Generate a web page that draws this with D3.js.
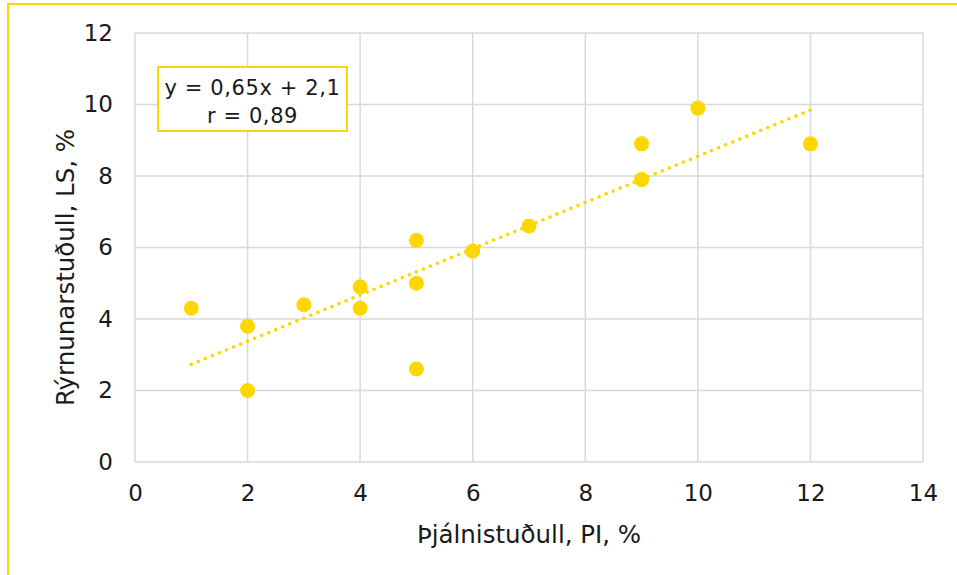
<!DOCTYPE html>
<html>
<head>
<meta charset="utf-8">
<title>PI vs LS</title>
<style>
  body { margin: 0; background: #fff; }
  text { font-family: 'DejaVu Sans', sans-serif; fill: #1a1a1a; }
</style>
<script src="https://d3js.org/d3.v7.min.js"></script>
</head>
<body>
<div id="chart"></div>
<script>
// ******* Data *******
const piValues = [1, 2, 2, 3, 4, 4, 5, 5, 5, 6, 7, 9, 9, 10, 12];
const lsValues = [4.3, 3.8, 2.0, 4.4, 4.9, 4.3, 6.2, 5.0, 2.6, 5.9, 6.6, 8.9, 7.9, 9.9, 8.9];
const xTicks = [0, 2, 4, 6, 8, 10, 12, 14];
const yTicks = [0, 2, 4, 6, 8, 10, 12];
const equationLines = ["y = 0,65x + 2,1", "r = 0,89"];

// ******* Constants *******
const width = 957, height = 575;
const margin = { top: 33, right: 34, bottom: 113, left: 135 };
const yellow = "#FFD700";
const font = "'DejaVu Sans', sans-serif";

const svg = d3.select("#chart").append("svg")
    .attr("width", width)
    .attr("height", height);

// outer frame
svg.append("rect")
    .attr("x", 8).attr("y", 4)
    .attr("width", width).attr("height", height)
    .attr("fill", "none")
    .attr("stroke", yellow)
    .attr("stroke-width", 2);

// ******* Scales *******
const x = d3.scaleLinear().domain([0, 14]).range([margin.left, width - margin.right]);
const y = d3.scaleLinear().domain([0, 12]).range([height - margin.bottom, margin.top]);

// ******* Grid *******
svg.append("g")
    .selectAll("line")
    .data(xTicks)
    .join("line")
    .attr("x1", d => x(d)).attr("x2", d => x(d))
    .attr("y1", y(0)).attr("y2", y(12))
    .attr("stroke", "#d9d9d9").attr("stroke-width", 1.5);

svg.append("g")
    .selectAll("line")
    .data(yTicks)
    .join("line")
    .attr("x1", x(0)).attr("x2", x(14))
    .attr("y1", d => y(d)).attr("y2", d => y(d))
    .attr("stroke", "#d9d9d9").attr("stroke-width", 1.5);

// ******* Axes (labels only) *******
const xAxis = svg.append("g")
    .attr("transform", `translate(0, ${y(0)})`)
    .call(d3.axisBottom(x).tickValues(xTicks).tickSize(0).tickPadding(23));
const yAxis = svg.append("g")
    .attr("transform", `translate(${x(0)}, 0)`)
    .call(d3.axisLeft(y).tickValues(yTicks).tickSize(0).tickPadding(22));
[xAxis, yAxis].forEach(g => {
  g.select(".domain").remove();
  g.selectAll("text")
    .attr("font-size", 23)
    .attr("fill", "#1a1a1a")
    .style("font-family", font);
});

svg.append("text")
    .attr("x", (x(0) + x(14)) / 2)
    .attr("y", 543)
    .attr("text-anchor", "middle")
    .attr("font-size", 24.5)
    .text("Þjálnistuðull, PI, %");

svg.append("text")
    .attr("transform", `translate(74, ${(y(0) + y(12)) / 2 + 20}) rotate(-90)`)
    .attr("text-anchor", "middle")
    .attr("font-size", 24.5)
    .text("Rýrnunarstuðull, LS, %");

// ******* Trendline (least squares) *******
const mx = d3.mean(piValues), my = d3.mean(lsValues);
let sxy = 0, sxx = 0;
piValues.forEach((v, i) => { sxy += (v - mx) * (lsValues[i] - my); sxx += (v - mx) * (v - mx); });
const slope = sxy / sxx, intercept = my - slope * mx;
const xMin = d3.min(piValues), xMax = d3.max(piValues);

svg.append("line")
    .attr("x1", x(xMin)).attr("y1", y(slope * xMin + intercept))
    .attr("x2", x(xMax)).attr("y2", y(slope * xMax + intercept))
    .attr("stroke", yellow)
    .attr("stroke-width", 3.5)
    .attr("stroke-linecap", "round")
    .attr("stroke-dasharray", "0.1 7.5");

// ******* Points *******
svg.append("g")
    .selectAll("circle")
    .data(piValues.map((v, i) => [v, lsValues[i]]))
    .join("circle")
    .attr("cx", d => x(d[0]))
    .attr("cy", d => y(d[1]))
    .attr("r", 7.5)
    .attr("fill", yellow);

// ******* Equation box *******
const box = svg.append("g").attr("transform", "translate(158, 67)");
box.append("rect")
    .attr("width", 189).attr("height", 64)
    .attr("fill", "#fff")
    .attr("stroke", yellow)
    .attr("stroke-width", 2);
box.selectAll("text")
    .data(equationLines)
    .join("text")
    .attr("x", 94.5)
    .attr("y", (d, i) => 28 + i * 28)
    .attr("text-anchor", "middle")
    .attr("font-size", 21)
    .attr("letter-spacing", 0.6)
    .text(d => d);
</script>
</body>
</html>
